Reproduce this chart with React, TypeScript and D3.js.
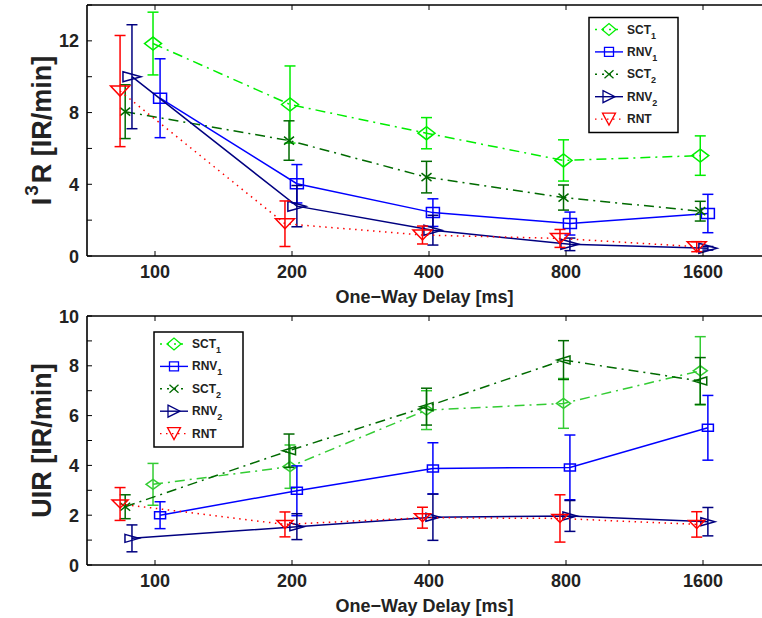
import React from "react";
import * as d3 from "d3";

// ---------- data ----------
const tickDelays = [100, 200, 400, 800, 1600];
const seriesNames = ["SCT", "RNV", "SCT", "RNV", "RNT"];
const seriesSubs = ["1", "1", "2", "2", ""];

// x positions (ms) of each series' points (slightly staggered as in the figure)
const xSCT1 = [99, 198, 395, 790, 1578];
const xRNV1 = [102.6, 205, 408, 816, 1640];
const xSCT2 = [86, 197, 395, 790, 1578];
const xRNV2 = [89, 205, 408, 816, 1640];
const xRNT = [83.8, 193, 387, 776, 1550];

// top panel: I^3R
const topSCT1 = [11.85, 8.45, 6.85, 5.33, 5.6];
const topSCT1Err = [1.75, 2.15, 0.87, 1.15, 1.1];
const topRNV1 = [8.8, 4.03, 2.42, 1.81, 2.37];
const topRNV1Err = [2.2, 1.07, 0.77, 0.64, 1.07];
const topSCT2 = [8.05, 6.44, 4.4, 3.26, 2.5];
const topSCT2Err = [1.5, 1.1, 0.88, 0.7, 0.55];
const topRNV2 = [10.0, 2.78, 1.44, 0.65, 0.43];
const topRNV2Err = [2.9, 1.15, 0.83, 0.35, 0.1];
const topRNT = [9.2, 1.8, 1.17, 0.98, 0.52];
const topRNTErr = [3.1, 1.27, 0.5, 0.5, 0.28];

// bottom panel: UIR
const botSCT1 = [3.24, 3.95, 6.22, 6.49, 7.8];
const botSCT1Err = [0.84, 0.87, 0.78, 1.0, 1.37];
const botRNV1 = [2.0, 2.98, 3.88, 3.92, 5.51];
const botRNV1Err = [0.54, 1.0, 1.03, 1.3, 1.3];
const botSCT2 = [2.34, 4.59, 6.36, 8.23, 7.39];
const botSCT2Err = [0.48, 0.67, 0.74, 0.78, 0.94];
const botRNV2 = [1.07, 1.54, 1.92, 1.97, 1.74];
const botRNV2Err = [0.54, 0.52, 0.93, 0.62, 0.57];
const botRNT = [2.45, 1.63, 1.9, 1.87, 1.63];
const botRNTErr = [0.66, 0.5, 0.42, 0.95, 0.51];

const topYTicks = [0, 2, 4, 6, 8, 10, 12, 14];
const topYLabels = [0, 4, 8, 12];
const botYTicks = [0, 1, 2, 3, 4, 5, 6, 7, 8, 9, 10];
const botYLabels = [0, 2, 4, 6, 8, 10];

// ---------- styles ----------
const FONT = "'Liberation Sans', Arial, Helvetica, sans-serif";
const colSCT1Top = "#00ee00";
const colSCT1Bot = "#33cc33";
const colSCT2 = "#006a00";
const colRNV1 = "#0000ff";
const colRNV2 = "#000080";
const colRNT = "#ff0000";

type MarkerType = "d" | "s" | ">" | "<" | "v" | "x";

type SizeMap = Record<MarkerType, [number, number]>;
const topSizes: SizeMap = { d: [17, 13], s: [13, 10], ">": [18, 10], "<": [14, 9], v: [19, 10], x: [10, 8] };
const botSizes: SizeMap = { d: [14, 10], s: [11, 7], ">": [14, 8], "<": [13, 8], v: [16, 8], x: [10, 8] };
const legSizes: SizeMap = { d: [14, 12], s: [9, 9], ">": [12, 12], "<": [12, 12], v: [13, 12], x: [9, 8] };

function markerPath(t: MarkerType, cx: number, cy: number, w: number, h: number): string {
  const a = w / 2, b = h / 2;
  switch (t) {
    case "d":
      return `M${cx - a},${cy}L${cx},${cy - b}L${cx + a},${cy}L${cx},${cy + b}Z`;
    case "s":
      return `M${cx - a},${cy - b}L${cx + a},${cy - b}L${cx + a},${cy + b}L${cx - a},${cy + b}Z`;
    case ">":
      return `M${cx - a},${cy - b}L${cx + a},${cy}L${cx - a},${cy + b}Z`;
    case "<":
      return `M${cx + a},${cy - b}L${cx - a},${cy}L${cx + a},${cy + b}Z`;
    case "v":
      return `M${cx - a},${cy - b}L${cx + a},${cy - b}L${cx},${cy + b}Z`;
    case "x":
      return `M${cx - a},${cy - b}L${cx + a},${cy + b}M${cx - a},${cy + b}L${cx + a},${cy - b}`;
  }
}

interface Series {
  xs: number[];
  ys: number[];
  err: number[];
  color: string;
  dash: string | undefined;
  markers: MarkerType[];
}

const dashDot = "10,5,2,5";
const dotted = "1.5,4.5";

const rep = (m: MarkerType): MarkerType[] => [m, m, m, m, m];

const topSeries: Series[] = [
  { xs: xSCT1, ys: topSCT1, err: topSCT1Err, color: colSCT1Top, dash: dashDot, markers: rep("d") },
  { xs: xRNV1, ys: topRNV1, err: topRNV1Err, color: colRNV1, dash: undefined, markers: rep("s") },
  { xs: xSCT2, ys: topSCT2, err: topSCT2Err, color: colSCT2, dash: dashDot, markers: rep("x") },
  { xs: xRNV2, ys: topRNV2, err: topRNV2Err, color: colRNV2, dash: undefined, markers: rep(">") },
  { xs: xRNT, ys: topRNT, err: topRNTErr, color: colRNT, dash: dotted, markers: rep("v") },
];

const botSeries: Series[] = [
  { xs: xSCT1, ys: botSCT1, err: botSCT1Err, color: colSCT1Bot, dash: dashDot, markers: rep("d") },
  { xs: xRNV1, ys: botRNV1, err: botRNV1Err, color: colRNV1, dash: undefined, markers: rep("s") },
  { xs: xSCT2, ys: botSCT2, err: botSCT2Err, color: colSCT2, dash: dashDot, markers: ["x", "<", "<", "<", "<"] },
  { xs: xRNV2, ys: botRNV2, err: botRNV2Err, color: colRNV2, dash: undefined, markers: rep(">") },
  { xs: xRNT, ys: botRNT, err: botRNTErr, color: colRNT, dash: dotted, markers: rep("v") },
];

const legendColors = ["#00ee00", colRNV1, colSCT2, colRNV2, colRNT];
const legendDash = ["2,5", undefined, "2,5", undefined, dotted];
const legendMarkers: MarkerType[] = ["d", "s", "x", ">", "v"];

// ---------- components ----------
interface PanelProps {
  top: number;
  bottom: number;
  yMax: number;
  yTicks: number[];
  yLabels: number[];
  series: Series[];
  sizes: SizeMap;
  legendX: number;
  legendY: number;
  yTitle: React.ReactNode;
  tickBaseline: number;
  xTitleBaseline: number;
}

const LEFT = 87;
const RIGHT = 762;

function Legend({ x, y }: { x: number; y: number }) {
  const w = 89, h = 115;
  return (
    <g>
      <rect x={x} y={y} width={w} height={h} fill="white" stroke="black" strokeWidth={1.5} />
      {seriesNames.map((n, i) => {
        const cy = y + 12 + i * 22.4;
        const t = legendMarkers[i];
        const [mw, mh] = legSizes[t];
        return (
          <g key={i}>
            <line x1={x + 6} x2={x + 34} y1={cy} y2={cy} stroke={legendColors[i]} strokeWidth={1.4} strokeDasharray={legendDash[i]} />
            <path d={markerPath(t, x + 20, cy, mw, mh)} fill="none" stroke={legendColors[i]} strokeWidth={1.3} />
            <text x={x + 38} y={cy + 4} fontFamily={FONT} fontWeight="bold" fontSize={12} fill="#222">
              {n}
              {seriesSubs[i] && (
                <tspan dy={5} fontSize={9}>{seriesSubs[i]}</tspan>
              )}
            </text>
          </g>
        );
      })}
    </g>
  );
}

function Panel(p: PanelProps) {
  const x = d3
    .scaleLog()
    .base(2)
    .domain([100 * Math.pow(2, (LEFT - 155) / 137), 100 * Math.pow(2, (RIGHT - 155) / 137)])
    .range([LEFT, RIGHT]);
  const y = d3.scaleLinear().domain([0, p.yMax]).range([p.bottom, p.top]);
  const cap = 5.5;
  return (
    <g>
      {/* series lines */}
      {p.series.map((s, si) => {
        const line = d3
          .line<number>()
          .x((_, i) => x(s.xs[i]))
          .y((v) => y(v));
        return (
          <g key={si}>
            <path d={line(s.ys) || ""} fill="none" stroke={s.color} strokeWidth={1.5} strokeDasharray={s.dash} />
            {s.ys.map((v, i) => {
              const cx = x(s.xs[i]);
              const y1 = y(v + s.err[i]);
              const y2 = y(v - s.err[i]);
              return (
                <g key={i} stroke={s.color} strokeWidth={1.5} fill="none">
                  <line x1={cx} x2={cx} y1={y1} y2={y2} />
                  <line x1={cx - cap} x2={cx + cap} y1={y1} y2={y1} />
                  <line x1={cx - cap} x2={cx + cap} y1={y2} y2={y2} />
                </g>
              );
            })}
            {s.ys.map((v, i) => {
              const t = s.markers[i];
              const [mw, mh] = p.sizes[t];
              return (
                <path key={"m" + i} d={markerPath(t, x(s.xs[i]), y(v), mw, mh)} fill="none" stroke={s.color} strokeWidth={1.5} />
              );
            })}
          </g>
        );
      })}
      {/* axes box */}
      <line x1={LEFT} x2={RIGHT + 20} y1={p.top} y2={p.top} stroke="black" strokeWidth={1.6} />
      <line x1={LEFT} x2={RIGHT + 20} y1={p.bottom} y2={p.bottom} stroke="black" strokeWidth={1.6} />
      <line x1={LEFT} x2={LEFT} y1={p.top} y2={p.bottom} stroke="black" strokeWidth={1.6} />
      {/* x ticks */}
      {tickDelays.map((d) => (
        <g key={d}>
          <line x1={x(d)} x2={x(d)} y1={p.bottom} y2={p.bottom - 5} stroke="black" strokeWidth={1} />
          <line x1={x(d)} x2={x(d)} y1={p.top} y2={p.top + 5} stroke="black" strokeWidth={1} />
          <text x={x(d)} y={p.tickBaseline} textAnchor="middle" fontFamily={FONT} fontWeight="bold" fontSize={18} fill="#222">
            {d}
          </text>
        </g>
      ))}
      {/* y ticks */}
      {p.yTicks.map((t) => (
        <line key={t} x1={LEFT} x2={LEFT + 5} y1={y(t)} y2={y(t)} stroke="black" strokeWidth={1} />
      ))}
      {p.yLabels.map((t) => (
        <text key={t} x={LEFT - 8} y={y(t) + 6.5} textAnchor="end" fontFamily={FONT} fontWeight="bold" fontSize={18} fill="#222">
          {t}
        </text>
      ))}
      <text x={(LEFT + RIGHT) / 2} y={p.xTitleBaseline} textAnchor="middle" fontFamily={FONT} fontWeight="bold" fontSize={18} fill="#222">
        One−Way Delay [ms]
      </text>
      <g transform={`translate(50.5,${(p.top + p.bottom) / 2}) rotate(-90)`}>
        <text x={0} y={0} textAnchor="middle" fontFamily={FONT} fontWeight="bold" fontSize={27} fill="#222">
          {p.yTitle}
        </text>
      </g>
      <Legend x={p.legendX} y={p.legendY} />
    </g>
  );
}

export default function App() {
  return (
    <svg
      width={762}
      height={618}
      viewBox="0 0 762 618"
      style={{ position: "absolute", left: 0, top: 0, background: "white" }}
    >
      <rect x={0} y={0} width={762} height={618} fill="white" />
      <Panel
        top={5}
        bottom={256}
        yMax={14}
        yTicks={topYTicks}
        yLabels={topYLabels}
        series={topSeries}
        sizes={topSizes}
        legendX={589}
        legendY={17.5}
        yTitle={
          <>
            I<tspan dx={2} dy={-13} fontSize={19}>3</tspan>
            <tspan dx={2} dy={13}>R [IR/min]</tspan>
          </>
        }
        tickBaseline={278}
        xTitleBaseline={303}
      />
      <Panel
        top={316}
        bottom={565}
        yMax={10}
        yTicks={botYTicks}
        yLabels={botYLabels}
        series={botSeries}
        sizes={botSizes}
        legendX={154}
        legendY={332}
        yTitle={<>UIR [IR/min]</>}
        tickBaseline={587}
        xTitleBaseline={612}
      />
    </svg>
  );
}
